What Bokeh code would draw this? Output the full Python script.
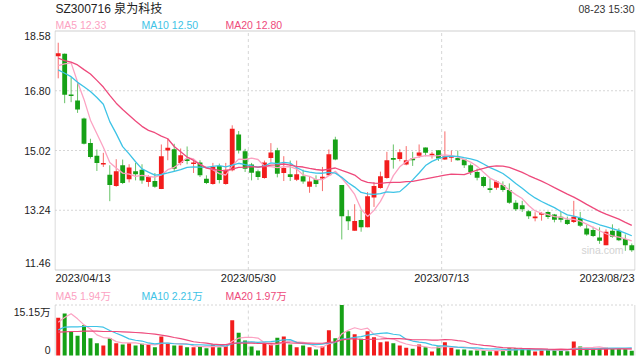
import pandas as pd
from bokeh.plotting import figure
from bokeh.models import ColumnDataSource, FixedTicker, Label, Range1d
from bokeh.embed import file_html
from bokeh.resources import INLINE

# ---------------- data ----------------
title_text = "SZ300716 泉为科技"
time_text = "08-23 15:30"
date_tick_labels = ["2023/04/13", "2023/05/30", "2023/07/13", "2023/08/23"]
price_tick_values = [18.58, 16.80, 15.02, 13.24, 11.46]
price_tick_labels = ["18.58", "16.80", "15.02", "13.24", "11.46"]
vol_top_value = 15.15
vol_tick_labels = ["15.15万", "0"]
ma_legend = ["MA5 12.33", "MA10 12.50", "MA20 12.80"]
vol_ma_legend = ["MA5 1.94万", "MA10 2.21万", "MA20 1.97万"]

opens = [17.83, 17.90, 16.68, 16.51, 15.97, 15.24, 14.86, 14.61, 14.30, 13.96,
         14.58, 14.16, 14.40, 14.45, 14.08, 14.11, 13.87, 15.02, 15.06, 14.65,
         14.75, 14.62, 14.66, 14.18, 14.02, 14.56, 14.02, 14.43, 15.50, 15.00,
         14.60, 14.40, 14.20, 14.80, 15.03, 14.35, 14.31, 14.15, 14.25, 13.94,
         14.16, 14.20, 14.28, 15.35, 13.99, 13.06, 12.63, 12.95, 12.73, 13.62,
         13.90, 14.20, 14.78, 14.77, 14.60, 14.77, 14.86, 15.11, 14.89, 15.03,
         14.75, 14.82, 14.80, 14.75, 14.58, 14.38, 14.23, 13.88, 13.91, 13.99,
         13.84, 13.46, 13.39, 13.21, 13.02, 13.12, 13.19, 13.11, 13.05, 12.96,
         12.89, 13.01, 12.70, 12.65, 12.43, 12.20, 12.63, 12.63, 12.38, 12.20]
highs = [18.23, 17.91, 17.20, 17.06, 16.00, 15.37, 15.05, 14.95, 14.58, 14.76,
         14.75, 14.61, 14.65, 14.61, 14.28, 14.35, 15.20, 15.37, 15.22, 15.08,
         15.14, 14.75, 14.73, 14.28, 14.65, 14.63, 14.65, 15.77, 15.60, 15.07,
         14.65, 14.45, 14.72, 15.24, 15.10, 14.85, 14.72, 14.72, 14.45, 14.23,
         14.28, 14.53, 15.05, 15.43, 13.99, 13.24, 13.42, 13.24, 13.78, 14.08,
         14.39, 14.98, 15.20, 15.06, 15.15, 14.98, 15.20, 15.11, 14.98, 15.03,
         15.59, 15.02, 15.02, 14.77, 14.63, 14.48, 14.25, 14.18, 14.13, 14.10,
         14.04, 13.54, 13.52, 13.24, 13.18, 13.19, 13.21, 13.13, 13.20, 13.05,
         13.52, 13.19, 12.80, 12.75, 12.73, 12.67, 12.82, 12.70, 12.52, 12.25]
lows = [17.17, 16.43, 16.46, 16.14, 15.20, 14.78, 14.41, 14.53, 13.51, 13.94,
        14.02, 14.07, 14.13, 14.03, 13.94, 13.91, 13.87, 14.73, 14.41, 14.58,
        14.61, 14.35, 14.23, 14.02, 14.00, 14.04, 14.00, 14.40, 14.93, 14.38,
        14.13, 14.14, 14.18, 14.68, 14.22, 14.11, 14.11, 14.11, 14.03, 13.76,
        13.93, 13.81, 14.26, 14.73, 12.37, 12.65, 12.63, 12.60, 12.73, 13.34,
        13.88, 14.18, 14.48, 14.70, 14.58, 14.56, 14.80, 14.85, 14.78, 14.71,
        14.74, 14.68, 14.72, 14.50, 14.29, 14.13, 13.92, 13.76, 13.85, 13.79,
        13.43, 13.22, 13.19, 12.98, 12.91, 12.93, 12.98, 12.88, 12.88, 12.80,
        12.86, 12.74, 12.48, 12.44, 12.24, 12.20, 12.42, 12.32, 12.03, 12.00]
closes = [17.92, 16.68, 16.65, 16.24, 15.22, 14.83, 14.65, 14.64, 13.99, 14.40,
          14.05, 14.51, 14.31, 14.13, 14.23, 13.94, 14.85, 15.10, 14.48, 14.88,
          14.72, 14.66, 14.28, 14.05, 14.53, 14.14, 14.45, 15.67, 15.02, 14.48,
          14.36, 14.23, 14.66, 14.96, 14.33, 14.50, 14.23, 14.31, 14.10, 14.10,
          14.02, 14.22, 14.91, 14.75, 13.06, 12.91, 12.92, 12.73, 13.66, 13.96,
          14.25, 14.73, 14.76, 14.97, 14.73, 14.74, 14.96, 14.95, 14.91, 14.78,
          14.85, 14.84, 14.73, 14.58, 14.38, 14.21, 13.96, 13.86, 14.10, 13.84,
          13.46, 13.27, 13.27, 13.06, 13.04, 13.14, 13.04, 12.96, 12.96, 12.83,
          13.05, 12.78, 12.52, 12.47, 12.33, 12.60, 12.45, 12.35, 12.20, 12.05]
# volume, unit 万
volumes = [11.3, 12.6, 7.1, 5.9, 9.1, 5.2, 3.7, 3.0, 5.2, 3.7,
           3.3, 3.7, 3.0, 3.5, 3.3, 2.5, 5.7, 3.5, 3.0, 3.0,
           2.5, 2.5, 2.7, 2.2, 3.3, 2.5, 2.8, 10.6, 6.8, 4.5,
           2.7, 1.5, 3.7, 3.5, 5.3, 5.7, 3.3, 2.5, 3.0, 2.5,
           1.8, 2.7, 7.6, 5.2, 15.15, 7.3, 6.4, 5.0, 7.3, 5.5,
           4.0, 4.2, 3.7, 3.0, 2.3, 2.0, 3.3, 2.5, 1.2, 2.7,
           4.0, 2.3, 1.8, 1.8, 1.5, 1.5, 1.5, 1.2, 1.5, 1.7,
           2.2, 2.2, 2.2, 1.8, 1.2, 1.5, 1.7, 1.7, 1.7, 1.3,
           4.2, 2.7, 2.0, 2.0, 2.0, 2.3, 2.0, 2.0, 2.0, 1.4]
# moving-average values at the left edge (they depend on days before the chart)
ma5_head = [17.55, 17.60, 17.63, 17.06]
ma10_head = [17.42, 17.32, 17.22, 17.05, 16.92, 16.78, 16.60, 16.40, 15.88]
ma20_head = [17.77, 17.70, 17.65, 17.57, 17.43, 17.30, 17.11, 16.91, 16.66, 16.43,
             16.24, 16.07, 15.90, 15.74, 15.62, 15.55, 15.45, 15.37, 15.14]
vma5_head = [10.0, 11.4, 12.5, 11.0]
vma10_head = [7.7, 8.5, 8.6, 8.6, 8.7, 8.7, 8.7, 8.5, 7.5]
vma20_head = [7.0, 7.1, 7.2, 7.2, 7.3, 7.3, 7.3, 7.2, 7.2, 7.2,
              7.1, 7.0, 6.9, 6.8, 6.6, 6.4, 6.1, 5.8, 5.4]

# ---------------- styling ----------------
FONT = "Liberation Sans, Arial, Noto Sans CJK SC"
RED, GREEN = "#f21c1c", "#16a116"
C_MA5, C_MA10, C_MA20 = "#fca2c2", "#3ec3e6", "#ee4a7c"
GRID = "#d6d6d6"
FRAME = "#cfcfcf"
TXT = "#222222"

N = len(closes)
xs = list(range(N))


def rolling(vals, n, head):
    out = pd.Series(vals, dtype=float).rolling(n).mean().tolist()
    out[:len(head)] = head
    return out


ma5, ma10, ma20 = rolling(closes, 5, ma5_head), rolling(closes, 10, ma10_head), rolling(closes, 20, ma20_head)
vma5, vma10, vma20 = rolling(volumes, 5, vma5_head), rolling(volumes, 10, vma10_head), rolling(volumes, 20, vma20_head)

up = [c >= o for o, c in zip(opens, closes)]
colors = [RED if u else GREEN for u in up]
min_body = 0.05
tops, bots = [], []
for o, c in zip(opens, closes):
    t, b = max(o, c), min(o, c)
    if t - b < min_body:
        m = (t + b) / 2
        t, b = m + min_body / 2, m - min_body / 2
    tops.append(t)
    bots.append(b)

src = ColumnDataSource(dict(x=xs, high=highs, low=lows, top=tops, bottom=bots,
                            color=colors, vol=volumes))

# ---------------- layout in page pixels ----------------
W, H = 638, 357
FL, FR, FB = 54, 3, 1          # frame spans x 54..635, y 0..356
FW, FH = W - FL - FR, H - FB
P_TOP, P_BOT = 30.5, 269.5     # price panel (page y)
V_TOP, V_BOT = 304.5, 355.0    # volume panel (page y)

upx = N / (FW - 1)
x_range = Range1d(-0.5 - 0.5 * upx, N - 0.5 + 0.5 * upx)

y_lo, y_hi = price_tick_values[-1], price_tick_values[0]
px = (y_hi - y_lo) / (P_BOT - P_TOP)
vpx = vol_top_value / (V_BOT - V_TOP)


def price_at(page_y):
    return y_hi - (page_y - P_TOP) * px


p = figure(width=W, height=H, x_range=x_range,
           y_range=Range1d(price_at(FH), price_at(0)),
           output_backend="svg", toolbar_location=None, x_axis_location=None,
           min_border_left=FL, min_border_right=FR, min_border_top=0, min_border_bottom=FB)
p.extra_y_ranges = {"vol": Range1d(-(FH - V_BOT) * vpx, vol_top_value + (V_BOT - 0) * vpx - (V_BOT - V_TOP) * vpx + 0)}
# fix vol range exactly: 0 at V_BOT, vol_top_value at V_TOP
p.extra_y_ranges["vol"].start = -(FH - V_BOT) * vpx
p.extra_y_ranges["vol"].end = vol_top_value + V_TOP * vpx
p.title.visible = False
p.background_fill_color = "white"
p.border_fill_color = "white"
p.outline_line_color = None
p.xgrid.visible = False
p.ygrid.visible = False

thirds = [N / 3 - 0.5, 2 * N / 3 - 0.5]
edges = [-0.5, N - 0.5]
# price panel grid + frame
mid = price_tick_values[1:-1]
p.segment(x0=-0.5, y0=mid, x1=N - 0.5, y1=mid, line_color=GRID, line_dash="2 2", line_width=1)
p.segment(x0=thirds, y0=y_lo, x1=thirds, y1=y_hi, line_color=GRID, line_dash="3 3", line_width=1)
p.quad(left=-0.5, right=N - 0.5, bottom=y_lo, top=y_hi, fill_color=None, line_color=FRAME, line_width=1)
# volume panel grid + frame
p.segment(x0=-0.5, y0=vol_top_value, x1=N - 0.5, y1=vol_top_value, line_color=GRID,
          line_dash="2 2", line_width=1, y_range_name="vol")
p.segment(x0=thirds, y0=0, x1=thirds, y1=vol_top_value, line_color=GRID, line_dash="3 3",
          line_width=1, y_range_name="vol")
p.segment(x0=edges, y0=0, x1=edges, y1=vol_top_value, line_color=FRAME, line_width=1,
          y_range_name="vol")

# left axis: price labels, then the two volume labels, all at their page heights
label_y = [35.0, None, None, None, 262.7]
ypos = []
for val, ly in zip(price_tick_values, label_y):
    ypos.append(round(val if ly is None else price_at(ly), 4))
vol_label_y = [311.7, 349.0]
ypos += [round(price_at(ly), 4) for ly in vol_label_y]
labels = price_tick_labels + vol_tick_labels
p.yaxis.ticker = FixedTicker(ticks=ypos)
p.yaxis.major_label_overrides = {v: t for v, t in zip(ypos, labels)}
ax = p.yaxis[0]
ax.axis_line_color = None
ax.major_tick_line_color = None
ax.minor_tick_line_color = None
ax.major_tick_out = 0
ax.major_tick_in = 0
ax.major_label_text_font = FONT
ax.major_label_text_font_size = "10.5px"
ax.major_label_text_color = TXT
ax.major_label_standoff = 4

# candles
p.segment(x0="x", y0="high", x1="x", y1="low", line_color="color", line_alpha=0.65,
          line_width=1, source=src)
p.vbar(x="x", top="top", bottom="bottom", width=0.75, fill_color="color",
       line_color=None, source=src)
p.line(xs, ma5, line_color=C_MA5, line_width=1.3)
p.line(xs, ma10, line_color=C_MA10, line_width=1.3)
p.line(xs, ma20, line_color=C_MA20, line_width=1.3)

# volume bars
p.vbar(x="x", top="vol", bottom=0, width=0.62, fill_color="color", line_color=None,
       source=src, y_range_name="vol")
p.line(xs, vma5, line_color=C_MA5, line_width=1.2, y_range_name="vol")
p.line(xs, vma10, line_color=C_MA10, line_width=1.2, y_range_name="vol")
p.line(xs, vma20, line_color=C_MA20, line_width=1.2, y_range_name="vol")


def text(x, page_y, t, color, size="10.5px", align="left", x_units="screen", x_offset=0):
    p.add_layout(Label(x=x, y=FH - page_y, x_units=x_units, y_units="screen", text=t,
                       x_offset=x_offset, text_color=color, text_font=FONT,
                       text_font_size=size, text_align=align, text_baseline="middle"))


text(1, 8.0, title_text, TXT, "12px")
text(FW - 1, 8.7, time_text, "#333333", "10.5px", "right")
for xo, t, c in zip([1, 87, 171], ma_legend, [C_MA5, C_MA10, C_MA20]):
    text(xo, 24.0, t, c)
text(569, 249.0, "sina.com", "#d2d2d2", "10.5px", "right")
for xo, t, c in zip([1, 87, 171], vol_ma_legend, [C_MA5, C_MA10, C_MA20]):
    text(xo, 295.0, t, c)

# date labels under the price panel
date_x = [edges[0], thirds[0], thirds[1], edges[1]]
date_align = ["left", "center", "center", "right"]
date_off = [0.5, 0, 0, -0.5]
for dx, t, al, off in zip(date_x, date_tick_labels, date_align, date_off):
    text(dx, 277.0, t, TXT, "11px", al, x_units="data", x_offset=off)

open("out.html", "w").write(file_html(p, INLINE))
